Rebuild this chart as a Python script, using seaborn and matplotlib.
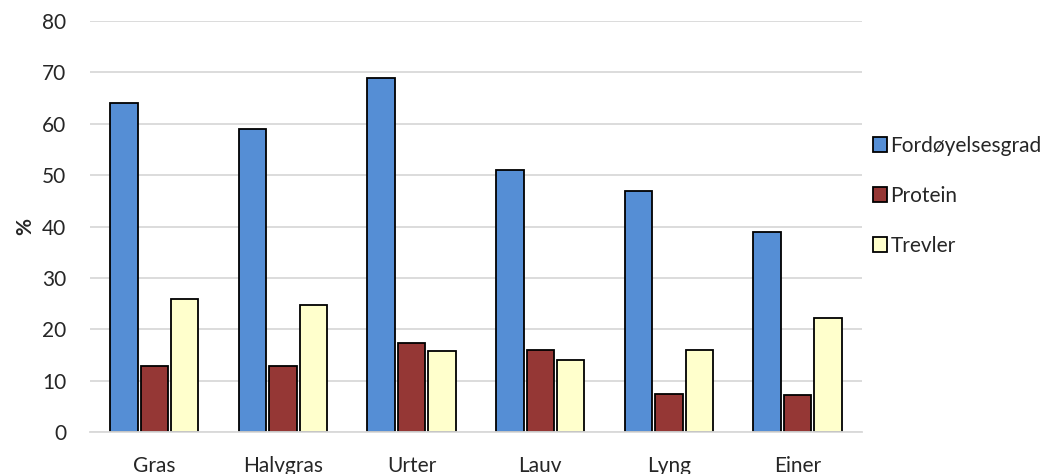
import matplotlib
matplotlib.use("Agg")
import matplotlib.pyplot as plt
import seaborn as sns
import pandas as pd

categories = ["Gras", "Halvgras", "Urter", "Lauv", "Lyng", "Einer"]
fordoyelsesgrad = [64, 59, 69, 51, 47, 39]
protein = [12.9, 12.8, 17.4, 16.1, 7.5, 7.3]
trevler = [26.0, 24.8, 15.8, 14.1, 16.1, 22.2]
series_names = ["Fordøyelsesgrad", "Protein", "Trevler"]
colors = ["#558ED5", "#953735", "#FFFFCC"]
y_ticks = [0, 10, 20, 30, 40, 50, 60, 70, 80]

df = pd.DataFrame({
    "kategori": categories * 3,
    "verdi": fordoyelsesgrad + protein + trevler,
    "serie": [s for s in series_names for _ in categories],
})

sns.set_theme(style="white")
plt.rcParams["font.family"] = ["Lato", "DejaVu Sans"]

fig = plt.figure(figsize=(10.53, 4.74), dpi=100)
ax = fig.add_axes([0.0855, 0.088, 0.733, 0.8677])

sns.barplot(data=df, x="kategori", y="verdi", hue="serie", order=categories,
            hue_order=series_names, palette=colors, width=0.71, gap=0.1,
            edgecolor="black", linewidth=1.3, saturation=1, ax=ax, legend=True)

ax.set_ylim(0, 80)
ax.set_yticks(y_ticks)
ax.set_xlim(-0.5, len(categories) - 0.5)
ax.yaxis.grid(True, color="#d9d9d9", linewidth=1.3)
ax.set_axisbelow(True)
for side in ["left", "right", "top"]:
    ax.spines[side].set_visible(False)
ax.spines["bottom"].set_color("#d9d9d9")
ax.spines["bottom"].set_linewidth(1.3)
ax.tick_params(axis="both", length=0, labelsize=15, colors="#262626")
ax.tick_params(axis="y", pad=17)
ax.tick_params(axis="x", pad=17)
ax.set_xlabel("")
ax.set_ylabel("%", fontsize=15, fontweight="bold", color="#262626", labelpad=5)

handles, labels = ax.get_legend_handles_labels()
ax.legend(handles, labels, loc="center left", bbox_to_anchor=(0.99, 0.575),
          frameon=False, fontsize=15, handlelength=0.7, handleheight=0.7,
          handletextpad=0.15, labelspacing=1.45, labelcolor="#262626")

fig.savefig("out.png", dpi=100)
